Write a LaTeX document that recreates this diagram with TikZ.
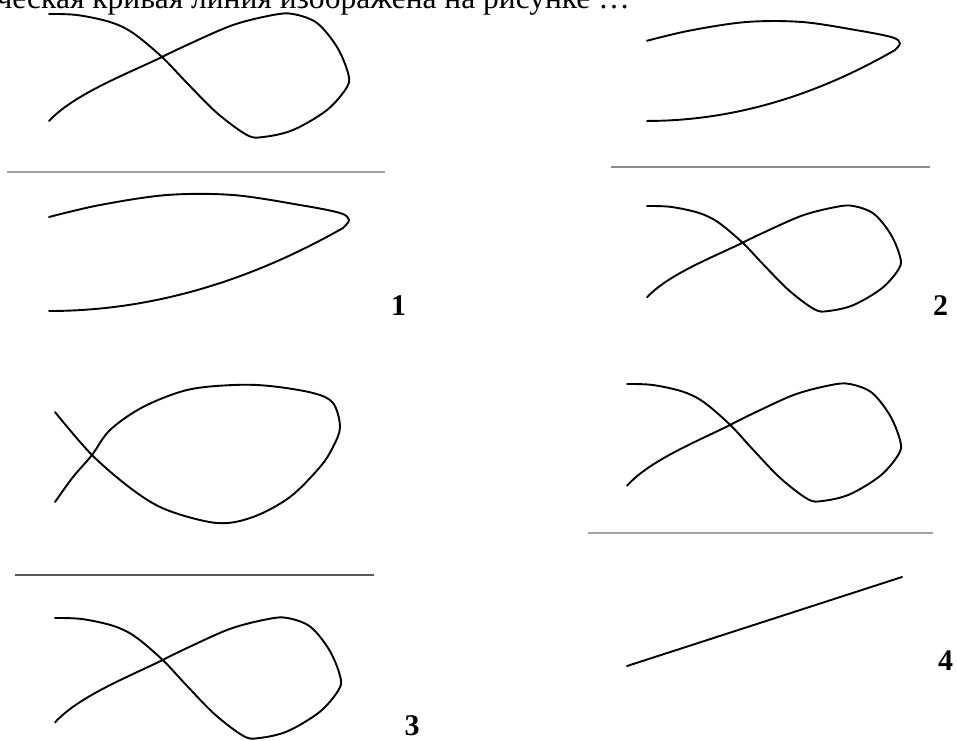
\documentclass[tikz,border=0pt]{standalone}
\usepackage{fontspec}
\setmainfont{Liberation Serif}
\usepackage{xcolor}
\definecolor{rulelt}{HTML}{A2A2A2}
\definecolor{rulemd}{HTML}{8C8C8C}
\definecolor{ruledk}{HTML}{5A5A5A}
\tikzset{
  crv/.style={line width=1.9pt,draw=black,line join=round,line cap=round},
  sepline/.style={line width=#1,line cap=butt},
  num/.style={font=\fontsize{30}{30}\selectfont\bfseries,inner sep=0pt,anchor=base},
  ttl/.style={font=\fontsize{31.5}{31.5}\selectfont,inner sep=0pt,anchor=base east},
  knot/.pic={
    \draw[crv] plot[smooth,tension=0.55] coordinates {
      (0,0) (28,1) (61,8) (84,19) (113,43) (138,69) (168,99) (198,121)
      (214,123) (244,116) (278,96) (298,73) (299,59) (288,33) (268,9)
      (244,0) (224,1) (184,11) (138,31) (113,43)}
      .. controls (80,59) and (25,80) .. (0,107);
  },
  lens/.pic={
    \draw[crv] plot[smooth,tension=0.55] coordinates {
      (0,22) (51,10) (118,0) (184,0) (251,10) (291,18) (300,25) (294,33)}
      .. controls (220,75) and (120,116) .. (0,116);
  },
}

\begin{document}
\begin{tikzpicture}[x=1pt,y=-1pt]
  \useasboundingbox (0,0) rectangle (957,740);

  %% ── question (cut at the top) ──────────────────────────────────────────
  \node[ttl] (title) at (630,8.5) {ческая кривая линия изображена на рисунке …};

  %% ── answer 1 ───────────────────────────────────────────────────────────
  \pic at (49,14) {knot};
  \draw[sepline=2pt,draw=rulelt] (7,172) -- (385,172);
  \pic at (49,195) {lens};
  \node[num] (n1) at (398.5,315) {1};

  %% ── answer 2 ───────────────────────────────────────────────────────────
  \pic[xscale=0.843,yscale=0.853] at (647,22) {lens};
  \draw[sepline=1.6pt,draw=rulemd] (611,167) -- (930,167);
  \pic[xscale=0.846,yscale=0.854] at (647,206) {knot};
  \node[num] (n2) at (940.5,315) {2};

  %% ── answer 3 ───────────────────────────────────────────────────────────
  \draw[crv] plot[smooth,tension=0.55] coordinates {
    (55,412) (92,455) (133,490) (167,510) (217,523) (253,517) (290,497)
    (320,467) (333,447) (340,427) (333,403) (313,393) (270,386) (233,385)
    (187,390) (143,407) (110,430) (92,455) (73,477) (55,502)};
  \draw[sepline=1.3pt,draw=ruledk] (15,575) -- (374,575);
  \pic[xscale=0.953,yscale=0.976] at (55,618) {knot};
  \node[num] (n3) at (412,735) {3};

  %% ── answer 4 ───────────────────────────────────────────────────────────
  \pic[xscale=0.913,yscale=0.951] at (627,384) {knot};
  \draw[sepline=2.2pt,draw=rulelt] (588,533) -- (933,533);
  \coordinate (s4) at (627,666);
  \coordinate (e4) at (902,577);
  \draw[crv] (s4) -- (e4);
  \node[num] (n4) at (945.5,670) {4};

\end{tikzpicture}
\end{document}
